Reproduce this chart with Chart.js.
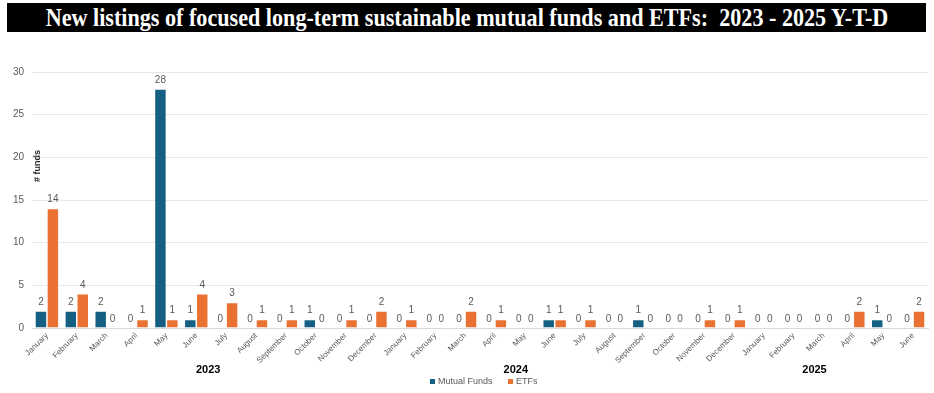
<!DOCTYPE html>
<html lang="en">
<head>
    <meta charset="UTF-8">
    <title>New listings of sustainable funds</title>
    <script src="https://cdn.jsdelivr.net/npm/chart.js"></script>
    <style>
        body { margin: 0; background: #fff; }
        #title {
            position: absolute; left: 7px; top: 3px; width: 919px; height: 29px;
            background: #000; color: #fff; overflow: hidden;
            font-family: 'Liberation Serif', serif; font-weight: bold; font-size: 26px; line-height: 30px;
            white-space: nowrap;
        }
        #title span { position: absolute; left: 50%; top: 0; }
        .wrap { position: absolute; left: 0; top: 0; width: 934px; height: 393px; }
    </style>
</head>
<body>

    <div class="wrap"><canvas id="fundsChart"></canvas></div>
    <div id="title"><span id="titleText">New listings of focused long-term sustainable mutual funds and ETFs:&nbsp; 2023 - 2025 Y-T-D</span></div>

    <script>
        // Month labels (2023 - June 2025)
        const months = [
            'January', 'February', 'March', 'April', 'May', 'June', 'July', 'August', 'September', 'October', 'November', 'December',
            'January', 'February', 'March', 'April', 'May', 'June', 'July', 'August', 'September', 'October', 'November', 'December',
            'January', 'February', 'March', 'April', 'May', 'June'
        ];
        const years = ['2023', '2024', '2025'];

        const mutualFunds = [2, 2, 2, 0, 28, 1, 0, 0, 0, 1, 0, 0,
                             0, 0, 0, 0, 0, 1, 0, 0, 1, 0, 0, 0,
                             0, 0, 0, 0, 1, 0];
        const etfs = [14, 4, 0, 1, 1, 4, 3, 1, 1, 0, 1, 2,
                      1, 0, 2, 1, 0, 1, 1, 0, 0, 0, 1, 1,
                      0, 0, 0, 2, 0, 2];

        // squeeze the title to the width it has in the original, centred in the black band
        const span = document.getElementById('titleText');
        span.style.transform = 'translateX(-50%) scaleX(' + (843 / span.offsetWidth) + ')';

        // value labels over each bar
        const valueLabels = {
            id: 'valueLabels',
            afterDatasetsDraw(chart) {
                const ctx = chart.ctx;
                ctx.save();
                ctx.font = '10px "Liberation Sans", Arial, sans-serif';
                ctx.fillStyle = '#595959';
                ctx.textAlign = 'center';
                ctx.textBaseline = 'bottom';
                chart.data.datasets.forEach((ds, i) => {
                    chart.getDatasetMeta(i).data.forEach((bar, j) => {
                        ctx.fillText(ds.data[j], bar.x, bar.y - 4);
                    });
                });
                ctx.restore();
            }
        };

        // "# funds" inside the plot, year labels under the months, legend at the bottom
        const extras = {
            id: 'extras',
            afterDraw(chart) {
                const ctx = chart.ctx;
                const area = chart.chartArea;
                const x = chart.scales.x;
                ctx.save();

                ctx.translate(area.left + 6, area.top + 94);
                ctx.rotate(-Math.PI / 2);
                ctx.font = 'bold 9px "Liberation Sans", Arial, sans-serif';
                ctx.fillStyle = '#262626';
                ctx.textAlign = 'center';
                ctx.textBaseline = 'middle';
                ctx.fillText('# funds', 0, 0);
                ctx.setTransform(1, 0, 0, 1, 0, 0);

                const anchors = [5.4, 15.7, 25.7];
                ctx.font = 'bold 11px "Liberation Sans", Arial, sans-serif';
                ctx.fillStyle = '#000';
                years.forEach((y, i) => {
                    ctx.fillText(y, x.getPixelForValue(anchors[i]), area.bottom + 42);
                });

                ctx.font = '9px "Liberation Sans", Arial, sans-serif';
                ctx.textAlign = 'left';
                let lx = 430;
                chart.data.datasets.forEach(ds => {
                    ctx.fillStyle = ds.backgroundColor;
                    ctx.fillRect(lx, area.bottom + 51, 5, 5);
                    ctx.fillStyle = '#595959';
                    ctx.fillText(ds.label, lx + 8, area.bottom + 54);
                    lx += 78;
                });
                ctx.restore();
            }
        };

        const ctx = document.getElementById('fundsChart').getContext('2d');
        new Chart(ctx, {
            type: 'bar',
            data: {
                labels: months,
                datasets: [
                    {
                        label: 'Mutual Funds',
                        data: mutualFunds,
                        backgroundColor: '#156082',
                        borderColor: '#ffffff',
                        borderWidth: 0.75
                    },
                    {
                        label: 'ETFs',
                        data: etfs,
                        backgroundColor: '#E97132',
                        borderColor: '#ffffff',
                        borderWidth: 0.75
                    }
                ]
            },
            options: {
                responsive: true,
                maintainAspectRatio: false,
                animation: false,
                categoryPercentage: 0.8,
                barPercentage: 1.0,
                layout: { padding: { top: 72, right: 6, left: 0, bottom: 0 } },
                plugins: {
                    legend: { display: false },
                    tooltip: { enabled: false }
                },
                scales: {
                    x: {
                        grid: { display: false, drawTicks: false },
                        border: { color: '#d9d9d9' },
                        ticks: {
                            autoSkip: false, minRotation: 45, maxRotation: 45, padding: 3,
                            color: '#595959',
                            font: { size: 8, family: '"Liberation Sans", Arial, sans-serif' }
                        },
                        afterFit(scale) { scale.height = 65; }
                    },
                    y: {
                        min: 0, max: 30,
                        ticks: {
                            stepSize: 5, padding: 8, color: '#595959',
                            font: { size: 10, family: '"Liberation Sans", Arial, sans-serif' }
                        },
                        grid: { color: '#e6e6e6', drawTicks: false },
                        border: { display: false },
                        afterFit(scale) { scale.width = 32; }
                    }
                }
            },
            plugins: [valueLabels, extras]
        });
    </script>

</body>
</html>
